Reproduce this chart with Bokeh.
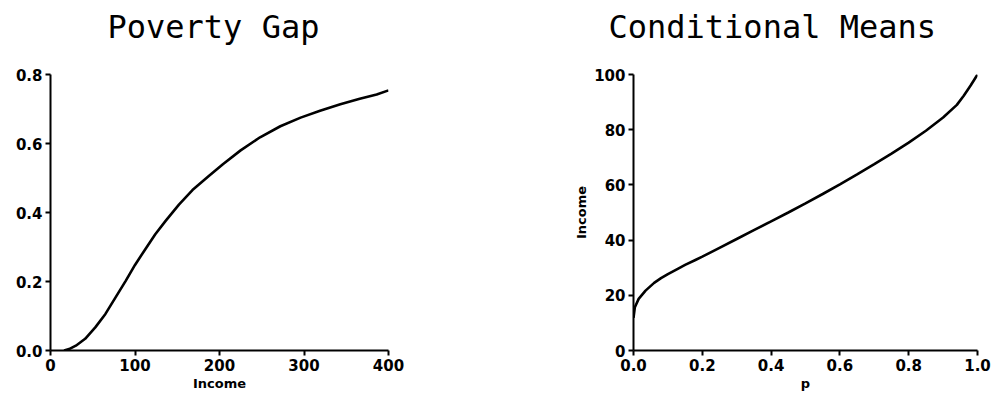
from bokeh.plotting import figure
from bokeh.layouts import row
from bokeh.models import Range1d, FixedTicker, Title
from bokeh.embed import file_html
from bokeh.resources import INLINE

# ---- data: Poverty Gap ----
gap_income = [16, 22, 30, 41, 53, 65, 77, 89, 100, 112, 124, 136, 152, 168,
              187, 204, 225, 248, 272, 296, 319, 343, 366, 386, 400]
gap_value = [0.0, 0.004, 0.014, 0.034, 0.067, 0.106, 0.154, 0.202, 0.248,
             0.293, 0.337, 0.375, 0.423, 0.465, 0.505, 0.540, 0.580, 0.618,
             0.650, 0.675, 0.695, 0.714, 0.730, 0.742, 0.754]

# ---- data: Conditional Means ----
cm_p = [0.0, 0.004, 0.015, 0.035, 0.06, 0.08, 0.10, 0.13, 0.15, 0.18, 0.20,
        0.25, 0.30, 0.35, 0.40, 0.45, 0.50, 0.55, 0.60, 0.65, 0.70, 0.75,
        0.80, 0.85, 0.90, 0.94, 0.96, 0.98, 1.0]
cm_income = [11.8, 15.7, 18.7, 21.7, 24.5, 26.2, 27.7, 29.7, 31.0, 32.8,
             34.0, 37.2, 40.4, 43.6, 46.8, 50.0, 53.3, 56.7, 60.2, 63.8,
             67.5, 71.3, 75.3, 79.6, 84.4, 89.0, 92.3, 96.0, 100.0]

left_xticks = [0, 100, 200, 300, 400]
left_yticks = [0, 0.2, 0.4, 0.6, 0.8]
left_ytick_labels = ["0.0", "0.2", "0.4", "0.6", "0.8"]
right_xticks = [0, 0.2, 0.4, 0.6, 0.8, 1.0]
right_xtick_labels = ["0.0", "0.2", "0.4", "0.6", "0.8", "1.0"]
right_yticks = [0, 20, 40, 60, 80, 100]

TICK_FONT = "DejaVu Sans"


def style(p, title, offset):
    # spacer between the frame and the title (empty text, only takes room)
    p.add_layout(Title(text=" ", text_font_size="20px", standoff=0), "above")
    p.title.text = title
    p.title.text_font = "DejaVu Sans Mono"
    p.title.text_font_size = "32px"
    p.title.text_font_style = "normal"
    p.title.text_color = "black"
    p.title.align = "left"
    p.title.offset = offset
    p.title.standoff = 10
    p.outline_line_color = None
    p.xgrid.visible = False
    p.ygrid.visible = False
    p.background_fill_color = "white"
    p.border_fill_color = "white"
    for ax in (p.xaxis[0], p.yaxis[0]):
        ax.axis_line_width = 2
        ax.axis_line_color = "black"
        ax.major_tick_line_width = 2
        ax.major_tick_line_color = "black"
        ax.major_tick_out = 5
        ax.major_tick_in = 0
        ax.minor_tick_line_color = None
        ax.major_label_text_font = TICK_FONT
        ax.major_label_text_font_style = "bold"
        ax.major_label_text_font_size = "15px"
        ax.major_label_text_color = "black"
        ax.major_label_standoff = 3
        ax.axis_label_text_font = TICK_FONT
        ax.axis_label_text_font_style = "bold"
        ax.axis_label_text_font_size = "13px"
        ax.axis_label_text_color = "black"
        ax.axis_label_standoff = 2


p1 = figure(width=508, height=396, output_backend="svg", toolbar_location=None,
            x_range=Range1d(0, 400), y_range=Range1d(0, 0.8),
            min_border_left=50, min_border_right=120,
            min_border_top=73, min_border_bottom=46)
p1.line(gap_income, gap_value, line_width=2.6, line_color="black")
style(p1, "Poverty Gap", 57)
p1.xaxis[0].ticker = FixedTicker(ticks=left_xticks)
p1.yaxis[0].ticker = FixedTicker(ticks=left_yticks)
p1.yaxis[0].major_label_overrides = {t: l for t, l in zip(left_yticks, left_ytick_labels)}
p1.xaxis[0].axis_label = "Income"

p2 = figure(width=483, height=396, output_backend="svg", toolbar_location=None,
            x_range=Range1d(0, 1), y_range=Range1d(0, 100),
            min_border_left=125, min_border_right=14,
            min_border_top=73, min_border_bottom=46)
p2.line(cm_p, cm_income, line_width=2.6, line_color="black")
style(p2, "Conditional Means", -25)
p2.xaxis[0].ticker = FixedTicker(ticks=right_xticks)
p2.xaxis[0].major_label_overrides = {t: l for t, l in zip(right_xticks, right_xtick_labels)}
p2.yaxis[0].ticker = FixedTicker(ticks=right_yticks)
p2.xaxis[0].axis_label = "p"
p2.yaxis[0].axis_label = "Income"

layout = row(p1, p2)
open("out.html", "w").write(file_html(layout, INLINE))
